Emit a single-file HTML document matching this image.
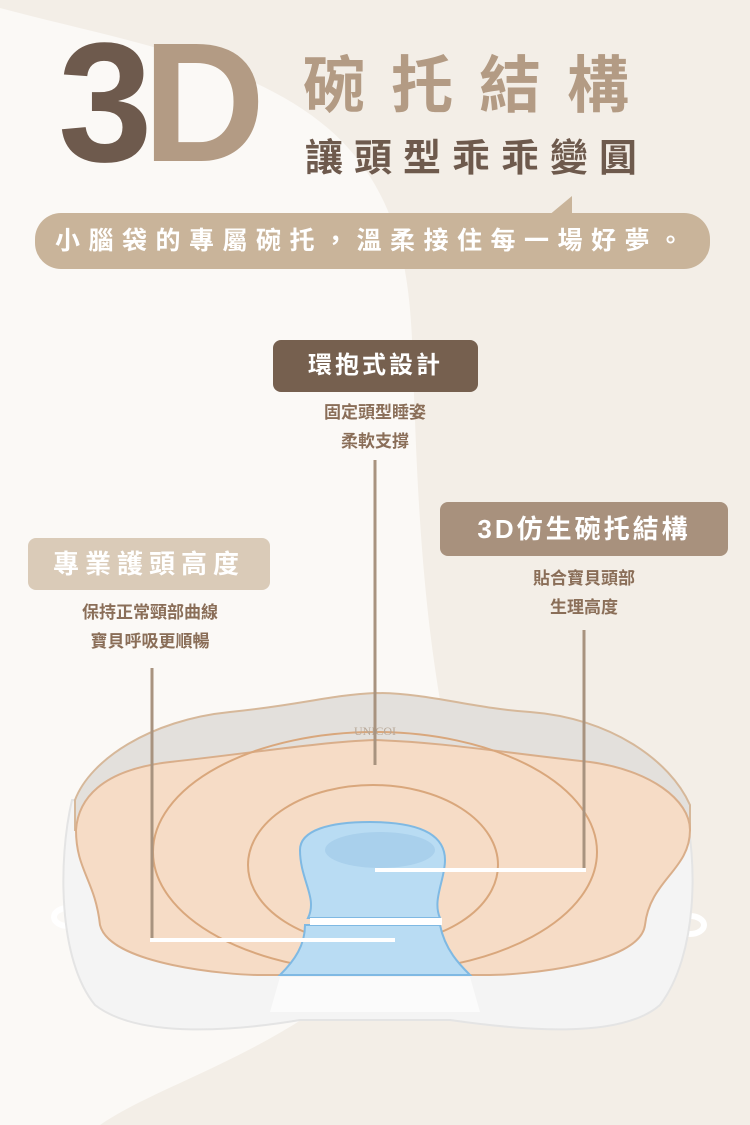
<!DOCTYPE html>
<html><head><meta charset="utf-8"><style>
html,body{margin:0;padding:0}
body{width:750px;height:1125px;position:relative;overflow:hidden;background:#f3eee7;font-family:"Liberation Sans","Noto Sans CJK TC",sans-serif}
.abs{position:absolute}
.t{white-space:nowrap;font-weight:bold}
.lab{position:absolute;border-radius:8px;color:#fff;font-weight:bold;text-align:center;white-space:nowrap}
.sub{position:absolute;color:#8a6e58;font-weight:bold;font-size:17px;text-align:center;line-height:29px;white-space:nowrap}
</style></head><body>
<svg class="abs" style="left:0;top:0" width="750" height="1125">
<path d="M0,8 C120,40 250,60 330,130 C420,210 410,320 415,420 C420,560 430,640 440,700 L330,1000 C250,1060 150,1090 100,1125 L0,1125 Z" fill="#fbf9f6"/>
<path d="M548,216 L572,196 L572,216 Z" fill="#c9b49a"/>
<rect x="35" y="213" width="675" height="56" rx="26" fill="#c9b49a"/>
<g>
<ellipse cx="68" cy="917" rx="14" ry="9" fill="none" stroke="#fff" stroke-width="6"/>
<ellipse cx="690" cy="925" rx="14" ry="9" fill="none" stroke="#fff" stroke-width="6"/>
<path d="M72,800 C58,860 58,960 95,1005 C140,1040 240,1030 300,1020 L450,1020 C520,1030 620,1040 660,1005 C698,955 698,860 684,805 Z" fill="#f4f4f4" stroke="#e4e4e4" stroke-width="2"/>
<path d="M75,800 C90,760 150,720 230,712 C300,705 330,695 375,693 C430,693 470,708 530,712 C610,718 670,760 690,805 L690,830 L75,830 Z" fill="#e3e0dc" stroke="#d6b89a" stroke-width="2"/>
<path d="M76,830 C78,800 100,770 170,762 C260,752 320,742 375,740 C440,742 500,752 590,762 C650,770 690,800 690,830 C690,870 650,880 645,925 C640,965 520,975 490,975 L465,975 L280,975 L260,975 C230,975 110,965 100,925 C95,880 76,870 76,830 Z" fill="#f6dcc6" stroke="#d9ae8a" stroke-width="2"/>
<ellipse cx="375" cy="852" rx="222" ry="120" fill="none" stroke="#d9a77c" stroke-width="2"/>
<ellipse cx="373" cy="865" rx="125" ry="80" fill="none" stroke="#d9a77c" stroke-width="2"/>
<path d="M300,850 C300,830 330,822 370,822 C420,822 445,835 445,860 C445,880 432,900 440,918 L308,918 C318,898 300,880 300,850 Z" fill="#b9dcf3" stroke="#7fb9e3" stroke-width="2"/>
<path d="M305,925 L440,925 C445,950 460,965 470,975 L280,975 C295,960 305,945 305,925 Z" fill="#b9dcf3" stroke="#7fb9e3" stroke-width="2"/>
<rect x="310" y="918" width="132" height="7" fill="#fff"/>
<ellipse cx="380" cy="850" rx="55" ry="18" fill="#a9d0ec"/>
<path d="M280,977 L470,977 L480,1012 L270,1012 Z" fill="#fbfbfb"/>
<text x="375" y="735" font-size="12" fill="#b8a898" text-anchor="middle" font-family="Liberation Serif,serif">UNICOI</text>
<line x1="375" y1="460" x2="375" y2="765" stroke="#a8937f" stroke-width="3"/>
<line x1="152" y1="668" x2="152" y2="940" stroke="#a8937f" stroke-width="3"/>
<line x1="150" y1="940" x2="395" y2="940" stroke="#fff" stroke-width="4"/>
<line x1="584" y1="630" x2="584" y2="870" stroke="#a8937f" stroke-width="3"/>
<line x1="375" y1="870" x2="586" y2="870" stroke="#fff" stroke-width="4"/>
</g>
</svg>
<div class="abs t" style="left:58px;top:8px;font-size:170px;line-height:190px;letter-spacing:-10px"><span style="color:#6e5a4d">3</span><span style="color:#b39b84">D</span></div>
<div class="abs t" style="left:303px;top:52px;font-size:62px;line-height:70px;color:#b39b84;letter-spacing:26px">碗托結構</div>
<div class="abs t" style="left:305px;top:135px;font-size:38px;line-height:48px;color:#6e5a4d;letter-spacing:11px">讓頭型乖乖變圓</div>
<div class="abs t" style="left:55px;top:224px;font-size:25px;line-height:34px;color:#fff;letter-spacing:8.5px">小腦袋的專屬碗托，溫柔接住每一場好夢。</div>
<div class="lab" style="left:273px;top:340px;width:205px;height:52px;line-height:52px;background:#76604f;font-size:24px;letter-spacing:3px">環抱式設計</div>
<div class="sub" style="left:275px;top:398px;width:200px">固定頭型睡姿<br>柔軟支撐</div>
<div class="lab" style="left:28px;top:538px;width:242px;height:52px;line-height:52px;background:#dacbb8;font-size:26px;letter-spacing:6px">專業護頭高度</div>
<div class="sub" style="left:50px;top:598px;width:200px">保持正常頸部曲線<br>寶貝呼吸更順暢</div>
<div class="lab" style="left:440px;top:502px;width:288px;height:54px;line-height:54px;background:#a8917d;font-size:26px;letter-spacing:3px">3D仿生碗托結構</div>
<div class="sub" style="left:484px;top:564px;width:200px">貼合寶貝頭部<br>生理高度</div>
</body></html>
